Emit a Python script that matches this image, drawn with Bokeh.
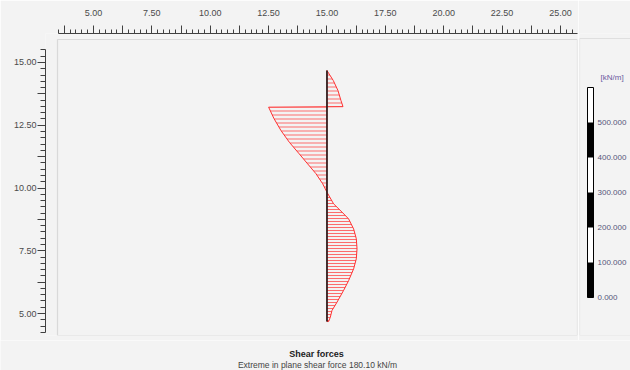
from bokeh.plotting import figure
from bokeh.layouts import row, column
from bokeh.models import (Range1d, LinearAxis, SingleIntervalTicker, FixedTicker,
                          PrintfTickFormatter, BoxAnnotation, ColorBar,
                          LinearColorMapper, Label)
from bokeh.embed import file_html
from bokeh.resources import INLINE

# Shear force distribution along the wall (depth level in m, shear in kN/m)
depth = [14.68, 14.28, 13.88, 13.49, 13.24, 13.22, 12.77, 12.29, 11.82, 11.36,
         10.96, 10.57, 10.17, 9.83, 9.37, 9.04, 8.77, 8.37, 7.98, 7.58,
         7.18, 6.78, 6.31, 5.92, 5.45, 5.12, 4.85, 4.68]
shear = [0.0, 19.5, 34.0, 43.0, 49.4, -180.1, -163.7, -142.0, -116.0, -85.6,
         -59.6, -34.0, -13.3, 0.0, 20.4, 46.3, 66.7, 82.2, 90.5, 92.7,
         90.5, 82.2, 66.7, 51.3, 30.9, 15.4, 10.2, 5.0]

wall_x = 15.0          # horizontal position of the wall
diagram_width = 2.5    # drawn width of the extreme value, in drawing units

legend_ticks = [0, 100, 200, 300, 400, 500]
legend_top = 600

extreme = max(abs(v) for v in shear)
scale = diagram_width / extreme
xs = [wall_x + v * scale for v in shear]

# split at the zero crossing: upper part (top lobe + negative lobe) and lower lobe
split = depth.index(9.83)
upper_x = xs[:split + 1]
upper_y = depth[:split + 1]
lower_x = xs[split:] + [wall_x]
lower_y = depth[split:] + [depth[-1]]

BG = "#f3f3f3"


def bare(fig):
    fig.background_fill_color = BG
    fig.border_fill_color = BG
    fig.outline_line_color = None
    fig.grid.visible = False
    return fig


p = bare(figure(width=578, height=340, output_backend="svg", toolbar_location=None,
                x_range=Range1d(2.944, 25.73), y_range=Range1d(4.124, 16.155),
                x_axis_location=None, y_axis_location=None,
                min_border_left=45, min_border_right=1, min_border_top=33,
                min_border_bottom=5))

# inner drawing frame
frame = BoxAnnotation(left=3.458, top=15.916, fill_alpha=0,
                      line_color="#a0a0a0", line_width=1.2)
p.add_layout(frame)

# rulers: labelled every 2.5, ticks every 1.25 and 0.25
hidden = {v: "" for v in [1.25, 3.75, 6.25, 8.75, 11.25, 13.75, 16.25,
                           18.75, 21.25, 23.75, 26.25]}
top = LinearAxis(ticker=SingleIntervalTicker(interval=1.25, num_minor_ticks=5),
                 formatter=PrintfTickFormatter(format="%.2f"),
                 bounds=(3.5, 25.75))
left = LinearAxis(ticker=SingleIntervalTicker(interval=1.25, num_minor_ticks=5),
                  formatter=PrintfTickFormatter(format="%.2f"),
                  bounds=(4.25, 15.5))
for ax in (top, left):
    ax.major_label_overrides = hidden
    ax.axis_line_color = "#404040"
    ax.major_tick_line_color = "#404040"
    ax.minor_tick_line_color = "#404040"
    ax.major_tick_in = 0
    ax.minor_tick_in = 0
    ax.major_label_text_font = "Liberation Sans"
    ax.major_label_text_font_size = "9px"
    ax.major_label_text_color = "#4a4a4a"
top.major_tick_out = 8
top.minor_tick_out = 4
top.major_label_standoff = 10
left.major_tick_out = 8
left.minor_tick_out = 5
left.major_label_standoff = 1
p.add_layout(top, "above")
p.add_layout(left, "left")

# shear diagram
p.patch(upper_x, upper_y, fill_alpha=0, line_color="#ff3030", line_width=1,
        hatch_pattern="horizontal_line", hatch_color="#ff4040", hatch_alpha=0.75,
        hatch_scale=4, hatch_weight=1)
p.patch(lower_x, lower_y, fill_alpha=0, line_color="#ff3030", line_width=1,
        hatch_pattern="horizontal_line", hatch_color="#ff4040", hatch_alpha=0.75,
        hatch_scale=3, hatch_weight=1)

# wall
p.line([wall_x, wall_x], [depth[0], depth[-1]], line_color="#1a1a1a", line_width=1.6)

# legend panel with the scale bar (pixel-sized ranges, y measured up from the bottom)
lg = bare(figure(width=52, height=340, output_backend="svg", toolbar_location=None,
                 x_range=Range1d(0, 51), y_range=Range1d(0, 302),
                 x_axis_location=None, y_axis_location=None,
                 min_border_left=1, min_border_right=0, min_border_top=33,
                 min_border_bottom=5))
lg.add_layout(BoxAnnotation(left=0, right=60, top=297, fill_alpha=0,
                            line_color="#b4b4b4", line_width=1.2))

mapper = LinearColorMapper(palette=["#000000", "#ffffff"] * 3, low=0, high=legend_top)
cb = ColorBar(color_mapper=mapper, ticker=FixedTicker(ticks=legend_ticks),
              formatter=PrintfTickFormatter(format="%.3f"),
              width=6, height=210, location=(8, 38),
              major_label_text_font="Liberation Sans",
              major_label_text_font_size="8px",
              major_label_text_color="#55557a",
              major_tick_line_color=None, bar_line_color="#000000",
              label_standoff=4, padding=0, margin=0,
              background_fill_alpha=0)
lg.add_layout(cb, "center")
lg.add_layout(Label(x=21, y=258, text="[kN/m]", text_font="Liberation Sans",
                    text_font_size="8px", text_color="#6a5aa0",
                    text_baseline="middle"))

# captions strip (pixel-sized ranges)
cap = bare(figure(width=630, height=30, output_backend="svg", toolbar_location=None,
                  x_range=Range1d(0, 630), y_range=Range1d(0, 30),
                  x_axis_location=None, y_axis_location=None,
                  min_border=0))
cap.add_layout(Label(x=316, y=17, text="Shear forces", text_align="center",
                     text_baseline="middle", text_font="Liberation Sans",
                     text_font_size="9px", text_font_style="bold",
                     text_color="#222222"))
cap.add_layout(Label(x=317, y=6, text=f"Extreme in plane shear force {extreme:.2f} kN/m",
                     text_align="center", text_baseline="middle",
                     text_font="Liberation Sans", text_font_size="8.5px",
                     text_color="#444444"))

layout = column(row(p, lg, spacing=0), cap, spacing=0)
open("out.html", "w").write(file_html(layout, INLINE))
